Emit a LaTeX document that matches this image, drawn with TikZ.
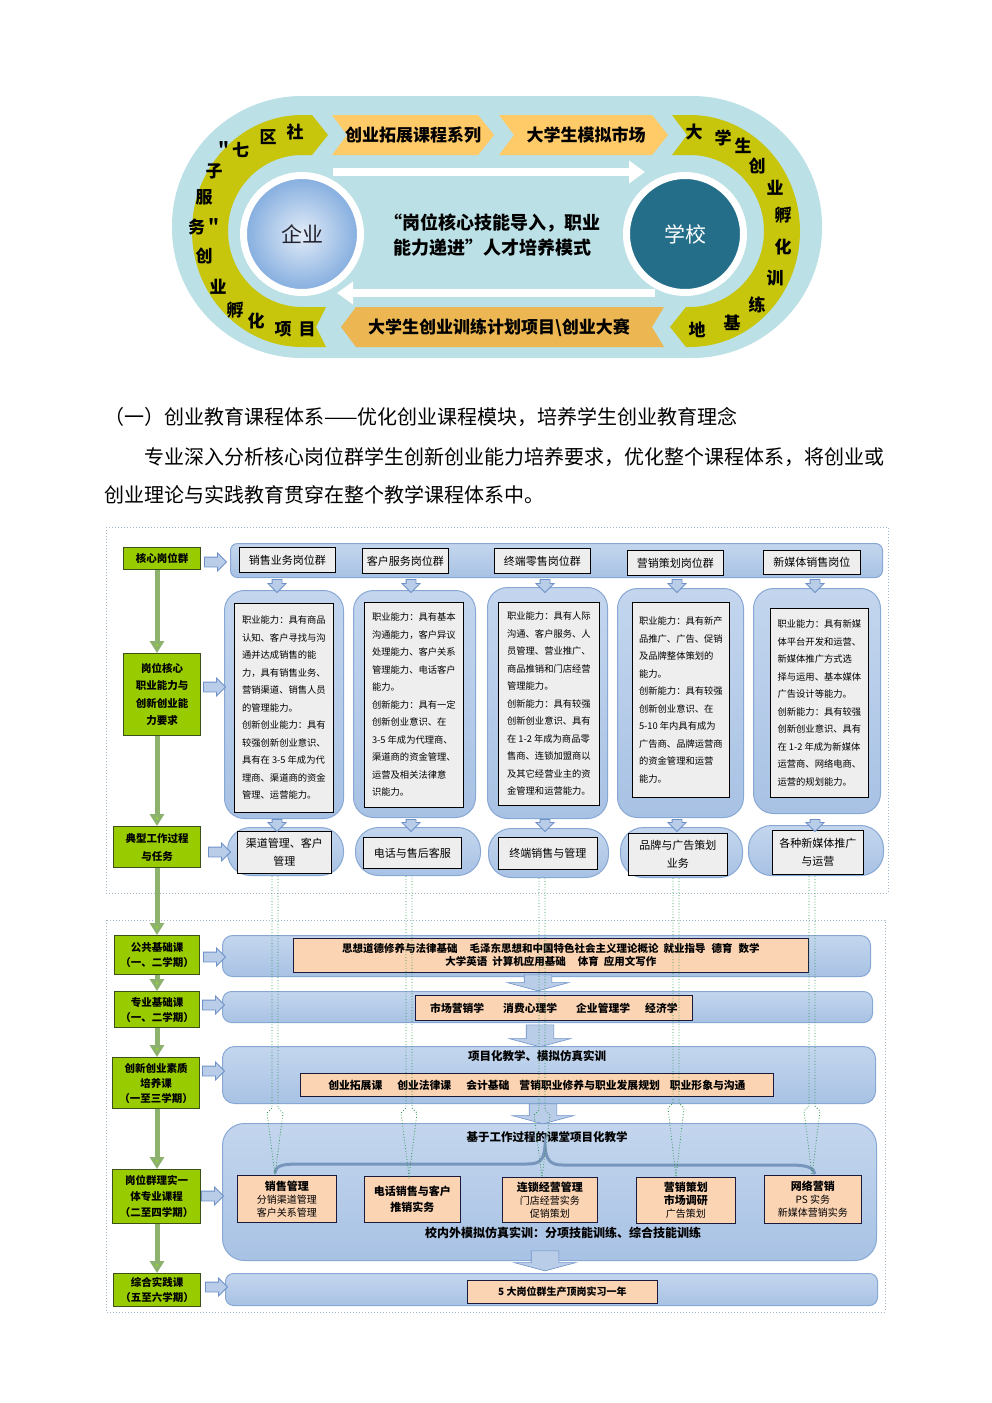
\documentclass[tikz,border=0pt]{standalone}
\usepackage{fontspec}
\setmainfont{Noto Sans CJK SC}
\usetikzlibrary{arrows.meta,shapes.arrows,calc}
\definecolor{ovalblue}{RGB}{187,224,229}
\definecolor{yband}{RGB}{200,198,12}
\definecolor{chevtop}{RGB}{255,202,104}
\definecolor{chevbot}{RGB}{236,183,82}
\definecolor{qin}{RGB}{226,236,248}
\definecolor{qout}{RGB}{130,172,222}
\definecolor{xuexiaoc}{RGB}{36,110,138}
\definecolor{greenbox}{RGB}{153,204,0}
\definecolor{greenborder}{RGB}{60,80,25}
\definecolor{panelA}{RGB}{196,214,238}
\definecolor{panelB}{RGB}{168,194,228}
\definecolor{panelline}{RGB}{135,168,212}
\definecolor{graybox}{RGB}{238,238,238}
\definecolor{orangebox}{RGB}{251,212,180}
\definecolor{oboxline}{RGB}{25,25,60}
\definecolor{dotline}{RGB}{165,185,205}
\definecolor{garrowc}{RGB}{140,178,110}
\definecolor{garrowhead}{RGB}{150,205,60}
\definecolor{greendot}{RGB}{45,150,80}
\definecolor{bracec}{RGB}{120,150,188}
\definecolor{arrfill}{RGB}{185,205,232}
\definecolor{arrline}{RGB}{110,145,200}
\newcommand\fsz[2]{\fontsize{#1}{#2}\selectfont}
\begin{document}
\begin{tikzpicture}[x=1pt, y=-1pt,
  gbox/.style={draw=greenborder, fill=greenbox, line width=1pt, align=center, inner sep=0pt, anchor=north west, font=\fsz{10.5}{15}\bfseries},
  panel/.style={draw=panelline, line width=1pt, top color=panelA, bottom color=panelB, anchor=north west, inner sep=0pt},
  pbox/.style={draw=black, line width=0.8pt, fill=graybox, anchor=north west, inner sep=0pt, align=center, font=\fsz{11}{18}},
  tbox/.style={pbox, align=left, font=\fsz{9.3}{17.5}},
  obox/.style={draw=oboxline, line width=0.8pt, fill=orangebox, anchor=north west, inner sep=0pt, align=center, font=\fsz{10.5}{13}\bfseries},
  harr/.style={single arrow, draw=arrline, fill=arrfill, line width=0.8pt, inner xsep=0pt, inner ysep=4.5pt, text height=0pt, text depth=0pt, single arrow head extend=4pt, minimum height=22pt},
  varr/.style={single arrow, shape border rotate=270, draw=arrline, fill=arrfill, line width=0.8pt, inner xsep=4.5pt, inner ysep=0pt, text height=0pt, text depth=0pt, text width=0pt, single arrow head extend=4pt, minimum height=13pt},
  bigarr/.style={single arrow, shape border rotate=270, draw=arrline, fill=arrfill, line width=0.6pt, inner xsep=13.5pt, inner ysep=0pt, text height=0pt, text depth=0pt, text width=0pt, single arrow head extend=17pt, single arrow tip angle=150, minimum height=20pt},
  garr/.style={draw=garrowc, line width=5pt, -{Triangle[width=14pt,length=12pt,fill=garrowhead]}},
  gdot/.style={draw=greendot, dotted, line width=0.8pt},
  dotbox/.style={draw=dotline, dotted, line width=1pt},
  lbl/.style={inner sep=0pt, font=\fsz{11.5}{14}\bfseries},
  btxt/.style={inner sep=0pt, font=\fsz{17}{20}\bfseries},
  warr/.style={draw=white, line width=8pt, -{Triangle[width=22pt,length=16pt]}}
]
\useasboundingbox (0,0) rectangle (992,1403);
\fill[white] (0,0) rectangle (992,1403);

% ================= top oval =================
\fill[ovalblue, rounded corners=130pt] (172,96) rectangle (822,358);
% left band
\fill[yband] (312,115) -- (328,135) -- (312,155) -- (302,155)
  arc[start angle=270, end angle=90, x radius=74, y radius=76]
  -- (326,307) -- (316,327) -- (326,347) -- (302,347)
  arc[start angle=90, end angle=270, x radius=110, y radius=116] -- cycle;
% right band
\fill[yband] (672,115) -- (690,115)
  arc[start angle=270, end angle=450, x radius=110, y radius=116]
  -- (686,347) -- (670,327) -- (686,307) -- (690,307)
  arc[start angle=90, end angle=-90, x radius=74, y radius=76]
  -- (672,155) -- (687,135) -- cycle;
% chevrons
\fill[chevtop] (332,115) -- (478,115) -- (494,135) -- (478,155) -- (332,155) -- (347,135) -- cycle;
\fill[chevtop] (499,115) -- (652,115) -- (668,135) -- (652,155) -- (499,155) -- (514,135) -- cycle;
\fill[chevbot] (341,327) -- (356,307) -- (664,307) -- (652,327) -- (664,347) -- (356,347) -- cycle;
\node[btxt] (ch1) at (413,135) {创业拓展课程系列};
\node[btxt] (ch2) at (586,135) {大学生模拟市场};
\node[btxt] (ch3) at (499,328) {大学生创业训练计划项目\textbackslash 创业大赛};
% white arrows
\coordinate (wt1) at (333,172);
\coordinate (wt2) at (645,172);
\coordinate (wb1) at (655,293);
\coordinate (wb2) at (337,293);
\draw[warr] (wt1) -- (wt2);
\draw[warr] (wb1) -- (wb2);
% circles
\node[circle, draw=white, line width=7pt, inner color=qin, outer color=qout, minimum size=117pt, inner sep=0pt, text={rgb,255:red,35;green,35;blue,45}, font=\fsz{21}{24}] (qiye) at (302,234) {企业};
\node[circle, draw=white, line width=7pt, fill=xuexiaoc, minimum size=117pt, inner sep=0pt, text=white, font=\fsz{21}{24}] (xuexiao) at (685,234) {学校};
\node[align=center, font=\fsz{18}{25}\bfseries] (slogan) at (492,235) {“岗位核心技能导入，职业\\能力递进”人才培养模式};
% band characters
\foreach \ch/\px/\py [count=\i] in {社/295/132, 区/268/137, ＂七/232/150, 子/214/171, 服/204/197, 务＂/205/227, 创/204/256, 业/218/287, 孵/235/310, 化/256/321, 项/283/329, 目/307/329}
  \node[btxt] (lb\i) at (\px,\py) {\ch};
\foreach \ch/\px/\py [count=\i] in {大/694/132, 学/723/138, 生/743/146, 创/757/166, 业/775/188, 孵/783/215, 化/783/247, 训/775/278, 练/757/305, 基/732/323, 地/697/330}
  \node[btxt] (rb\i) at (\px,\py) {\ch};

% ================= text =================
\node[anchor=base west, inner sep=0pt, font=\fsz{20}{24}] (hd1) at (104,424) {（一）创业教育课程体系——优化创业课程模块，培养学生创业教育理念};
\node[anchor=base west, inner sep=0pt, font=\fsz{20}{24}] (hd2) at (144,464) {专业深入分析核心岗位群学生创新创业能力培养要求，优化整个课程体系，将创业或};
\node[anchor=base west, inner sep=0pt, font=\fsz{20}{24}] (hd3) at (104,502) {创业理论与实践教育贯穿在整个教学课程体系中。};

% ================= diagram box 1 =================
\draw[dotbox] (106,527) rectangle (888,893);
\draw[dotbox] (106,920) rectangle (885,1312);

\node[gbox, minimum width=77pt, minimum height=22pt] (g1) at (123,547) {核心岗位群};
\node[gbox, minimum width=77pt, minimum height=82pt, font=\fsz{10.5}{17.5}\bfseries] (g2) at (123,653) {岗位核心\\职业能力与\\创新创业能\\力要求};
\node[gbox, minimum width=87pt, minimum height=41pt, font=\fsz{10.5}{18}\bfseries] (g3) at (113,826) {典型工作过程\\与任务};
\node[gbox, minimum width=85pt, minimum height=39pt] (g4) at (114,935) {公共基础课\\（一、二学期）};
\node[gbox, minimum width=85pt, minimum height=36pt] (g5) at (114,991) {专业基础课\\（一、二学期）};
\node[gbox, minimum width=87pt, minimum height=51pt] (g6) at (112,1057) {创新创业素质\\培养课\\（一至三学期）};
\node[gbox, minimum width=88pt, minimum height=54pt, font=\fsz{10.5}{16}\bfseries] (g7) at (112,1169) {岗位群理实一\\体专业课程\\（二至四学期）};
\node[gbox, minimum width=87pt, minimum height=33pt] (g8) at (113,1273) {综合实践课\\（五至六学期）};

\coordinate (gx) at (157,0);
\draw[garr] (gx |- g1.south) -- (gx |- g2.north);
\draw[garr] (gx |- g2.south) -- (gx |- g3.north);
\draw[garr] (gx |- g3.south) -- (gx |- g4.north);
\draw[garr] (gx |- g4.south) -- (gx |- g5.north);
\draw[garr] (gx |- g5.south) -- (gx |- g6.north);
\draw[garr] (gx |- g6.south) -- (gx |- g7.north);
\draw[garr] (gx |- g7.south) -- (gx |- g8.north);

% top bar
\node[panel, rounded corners=7pt, minimum width=652pt, minimum height=34pt] (tb) at (230,543) {};
\node[pbox, minimum width=96pt, minimum height=25pt] (p1) at (239,547) {销售业务岗位群};
\node[pbox, minimum width=86pt, minimum height=25pt] (p2) at (362,548) {客户服务岗位群};
\node[pbox, minimum width=96pt, minimum height=25pt] (p3) at (494,548) {终端零售岗位群};
\node[pbox, minimum width=96pt, minimum height=25pt] (p4) at (627,550) {营销策划岗位群};
\node[pbox, minimum width=97pt, minimum height=24pt] (p5) at (763,550) {新媒体销售岗位};

% tall panels
\node[panel, rounded corners=20pt, minimum width=119pt, minimum height=228pt] (P1) at (224,590) {};
\node[panel, rounded corners=20pt, minimum width=122pt, minimum height=227pt] (P2) at (353,590) {};
\node[panel, rounded corners=20pt, minimum width=120pt, minimum height=231pt] (P3) at (487,587) {};
\node[panel, rounded corners=20pt, minimum width=126pt, minimum height=229pt] (P4) at (617,588) {};
\node[panel, rounded corners=20pt, minimum width=127pt, minimum height=225pt] (P5) at (753,588) {};

\node[tbox, minimum width=99pt, minimum height=209pt] (T1) at (234,603) {职业能力：具有商品\\认知、客户寻找与沟\\通并达成销售的能\\力，具有销售业务、\\营销渠道、销售人员\\的管理能力。\\创新创业能力：具有\\较强创新创业意识、\\具有在 3-5 年成为代\\理商、渠道商的资金\\管理、运营能力。};
\node[tbox, minimum width=99pt, minimum height=205pt] (T2) at (364,602) {职业能力：具有基本\\沟通能力，客户异议\\处理能力、客户关系\\管理能力、电话客户\\能力。\\创新能力：具有一定\\创新创业意识、在\\3-5 年成为代理商、\\渠道商的资金管理、\\运营及相关法律意\\识能力。};
\node[tbox, minimum width=101pt, minimum height=203pt] (T3) at (498,602) {职业能力：具有人际\\沟通、客户服务、人\\员管理、营业推广、\\商品推销和门店经营\\管理能力。\\创新能力：具有较强\\创新创业意识、具有\\在 1-2 年成为商品零\\售商、连锁加盟商以\\及其它经营业主的资\\金管理和运营能力。};
\node[tbox, minimum width=97pt, minimum height=195pt] (T4) at (632,602) {职业能力：具有新产\\品推广、广告、促销\\及品牌整体策划的\\能力。\\创新能力：具有较强\\创新创业意识、在\\5-10 年内具有成为\\广告商、品牌运营商\\的资金管理和运营\\能力。};
\node[tbox, minimum width=98pt, minimum height=189pt] (T5) at (770,608) {职业能力：具有新媒\\体平台开发和运营、\\新媒体推广方式选\\择与运用、基本媒体\\广告设计等能力。\\创新能力：具有较强\\创新创业意识、具有\\在 1-2 年成为新媒体\\运营商、网络电商、\\运营的规划能力。};

% row 3
\node[panel, rounded corners=23pt, minimum width=116pt, minimum height=48pt] (R1) at (227,827) {};
\node[panel, rounded corners=23pt, minimum width=125pt, minimum height=48pt] (R2) at (355,827) {};
\node[panel, rounded corners=23pt, minimum width=120pt, minimum height=49pt] (R3) at (488,828) {};
\node[panel, rounded corners=23pt, minimum width=122pt, minimum height=50pt] (R4) at (620,827) {};
\node[panel, rounded corners=23pt, minimum width=135pt, minimum height=50pt] (R5) at (748,825) {};
\node[pbox, minimum width=94pt, minimum height=42pt] (S1) at (237,831) {渠道管理、客户\\管理};
\node[pbox, minimum width=98pt, minimum height=31pt] (S2) at (363,837) {电话与售后客服};
\node[pbox, minimum width=99pt, minimum height=32pt] (S3) at (498,837) {终端销售与管理};
\node[pbox, minimum width=99pt, minimum height=42pt] (S4) at (628,833) {品牌与广告策划\\业务};
\node[pbox, minimum width=91pt, minimum height=44pt] (S5) at (772,830) {各种新媒体推广\\与运营};

% small arrows
\foreach \xx [count=\i] in {277,411,545,677,815} {
  \node[varr] (ad\i) at (\xx,583.5) {};
  \node[varr, minimum height=12pt] (ae\i) at (\xx,823) {};
}
\node[harr] (ha1) at (213,562) {};
\node[harr] (ha2) at (212,687) {};
\node[harr] (ha3) at (217,852) {};

% ================= diagram box 2 =================
\node[panel, rounded corners=10pt, minimum width=648pt, minimum height=41pt] (B1) at (222,935) {};
\node[obox, minimum width=515pt, minimum height=34pt] (O1) at (293,938) {思想道德修养与法律基础\hspace{12pt}毛泽东思想和中国特色社会主义理论概论\hspace{5pt}就业指导\hspace{6pt}德育\hspace{6pt}数学\\大学英语\hspace{5pt}计算机应用基础\hspace{12pt}体育\hspace{5pt}应用文写作};
\node[panel, rounded corners=9pt, minimum width=650pt, minimum height=31pt] (B2) at (222,991) {};
\node[obox, minimum width=277pt, minimum height=25pt, font=\fsz{10.8}{13}\bfseries] (O2) at (415,995) {市场营销学\hspace{19pt}消费心理学\hspace{19pt}企业管理学\hspace{15pt}经济学};
\node[panel, rounded corners=12pt, minimum width=653pt, minimum height=57pt] (B3) at (222,1046) {};
\node[lbl] (H3) at (537,1056) {项目化教学、模拟仿真实训};
\node[obox, minimum width=473pt, minimum height=23pt, font=\fsz{10.8}{13}\bfseries] (O3) at (300,1073) {创业拓展课\hspace{15pt}创业法律课\hspace{15pt}会计基础\hspace{10pt}营销职业修养与职业发展规划\hspace{10pt}职业形象与沟通};
\node[panel, rounded corners=22pt, minimum width=654pt, minimum height=137pt] (B4) at (222,1123) {};
\node[lbl] (H4) at (547,1137) {基于工作过程的课堂项目化教学};
\draw[draw=bracec, line width=3pt] (275,1173) .. controls (276,1164) and (285,1164) .. (305,1164) -- (527,1164) .. controls (540,1164) and (544,1160) .. (545,1146) .. controls (546,1160) and (550,1165) .. (563,1165) -- (790,1165) .. controls (808,1165) and (814,1168) .. (815,1174);
\node[obox, minimum width=99pt, minimum height=47pt, font=\fsz{10}{13}] (b1) at (237,1175) {{\bfseries\fsz{11}{13}销售管理}\\分销渠道管理\\客户关系管理};
\node[obox, minimum width=96pt, minimum height=46pt, font=\fsz{11}{16}\bfseries] (b2) at (364,1176) {电话销售与客户\\推销实务};
\node[obox, minimum width=95pt, minimum height=45pt, font=\fsz{10}{13}] (b3) at (502,1177) {{\bfseries\fsz{11}{13}连锁经营管理}\\门店经营实务\\促销策划};
\node[obox, minimum width=99pt, minimum height=46pt, font=\fsz{10}{13}] (b4) at (636,1177) {{\bfseries\fsz{11}{13}营销策划}\\{\bfseries\fsz{11}{13}市场调研}\\广告策划};
\node[obox, minimum width=97pt, minimum height=48pt, font=\fsz{10}{13}] (b5) at (764,1175) {{\bfseries\fsz{11}{13}网络营销}\\PS 实务\\新媒体营销实务};
\node[lbl, font=\fsz{12}{14}\bfseries] (H5) at (563,1233) {校内外模拟仿真实训：分项技能训练、综合技能训练};
\node[panel, rounded corners=8pt, minimum width=652pt, minimum height=32pt] (B5) at (225,1273) {};
\node[obox, minimum width=190pt, minimum height=23pt, font=\fsz{10}{13}\bfseries] (O5) at (467,1280) {5 大岗位群生产顶岗实习一年};

\node[bigarr, minimum height=16pt] (da1) at (538,981) {};
\node[bigarr, minimum height=22pt] (da2) at (540,1034) {};
\node[bigarr] (da3) at (543,1112) {};
\node[bigarr] (da4) at (545,1259) {};

\node[harr] (ha4) at (212,957) {};
\node[harr] (ha5) at (211,1005) {};
\node[harr] (ha6) at (211,1071) {};
\node[harr] (ha7) at (210,1196) {};
\node[harr] (ha8) at (214,1287) {};

% dotted hollow arrows
\coordinate (c1) at (275,0);
\coordinate (c2) at (409,0);
\coordinate (c3) at (542,0);
\coordinate (c4) at (676,0);
\coordinate (c5) at (812,0);
\draw[gdot] ($(c1 |- R1.south)+(-3,0)$) -- ($(c1)+(-3,1108)$) -- ($(c1)+(-8,1113)$) -- (c1 |- b1.north) -- ($(c1)+(8,1113)$) -- ($(c1)+(3,1108)$) -- ($(c1 |- R1.south)+(3,0)$);
\draw[gdot] ($(c2 |- R2.south)+(-3,0)$) -- ($(c2)+(-3,1108)$) -- ($(c2)+(-8,1113)$) -- (c2 |- b2.north) -- ($(c2)+(8,1113)$) -- ($(c2)+(3,1108)$) -- ($(c2 |- R2.south)+(3,0)$);
\draw[gdot] ($(c3 |- R3.south)+(-3,0)$) -- ($(c3)+(-3,1110)$) -- ($(c3)+(-8,1115)$) -- (c3 |- b3.north) -- ($(c3)+(8,1115)$) -- ($(c3)+(3,1110)$) -- ($(c3 |- R3.south)+(3,0)$);
\draw[gdot] ($(c4 |- R4.south)+(-3,0)$) -- ($(c4)+(-3,1103)$) -- ($(c4)+(-8,1108)$) -- (c4 |- b4.north) -- ($(c4)+(8,1108)$) -- ($(c4)+(3,1103)$) -- ($(c4 |- R4.south)+(3,0)$);
\draw[gdot] ($(c5 |- R5.south)+(-3,0)$) -- ($(c5)+(-3,1106)$) -- ($(c5)+(-8,1111)$) -- (c5 |- b5.north) -- ($(c5)+(8,1111)$) -- ($(c5)+(3,1106)$) -- ($(c5 |- R5.south)+(3,0)$);
\end{tikzpicture}
\end{document}
